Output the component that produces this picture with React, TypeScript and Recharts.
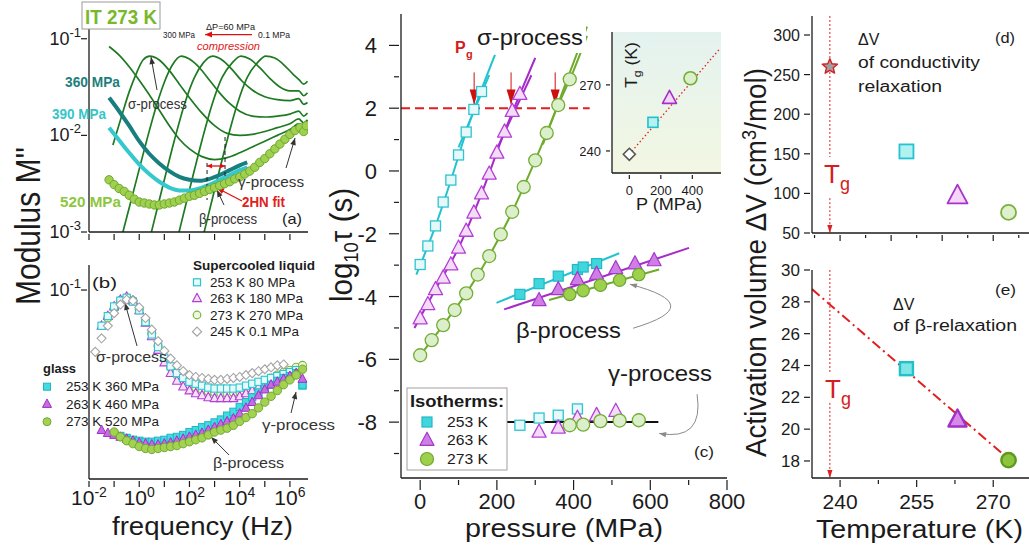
import React from "react";
import { ComposedChart, Line, Scatter, XAxis, YAxis, ReferenceLine } from "recharts";

const FONT = "Arial, 'Liberation Sans', Helvetica, sans-serif";
const INK = "#1b1b1b";
const AX = { stroke: INK, strokeWidth: 1.3 };

// (a) IT 273 K, thin curves 0.1 ... 300 MPa  (log10 f [Hz], log10 M'')
const a01F = [2.3, 2.7, 3.1, 3.5, 3.9, 4.3, 4.7, 5.04, 5.4, 5.8, 6.1, 6.35, 6.55, 6.7];
const a01M = [-3.3, -2.88, -2.46, -2.05, -1.68, -1.4, -1.25, -1.18, -1.2, -1.28, -1.36, -1.42, -1.47, -1.44];
const a60F = [1.3, 1.7, 2.1, 2.5, 2.9, 3.3, 3.7, 4.05, 4.4, 4.8, 5.2, 5.6, 6.0, 6.35, 6.55, 6.7];
const a60M = [-3.3, -2.88, -2.46, -2.05, -1.68, -1.4, -1.25, -1.18, -1.21, -1.3, -1.41, -1.5, -1.54, -1.54, -1.59, -1.56];
const a120F = [0.2, 0.6, 1.0, 1.4, 1.8, 2.2, 2.55, 2.92, 3.3, 3.7, 4.1, 4.5, 5.0, 5.5, 6.0, 6.35, 6.55, 6.7];
const a120M = [-3.3, -2.88, -2.46, -2.05, -1.68, -1.4, -1.25, -1.18, -1.22, -1.32, -1.44, -1.53, -1.6, -1.63, -1.64, -1.62, -1.68, -1.66];
const a180F = [-0.9, -0.5, -0.1, 0.3, 0.7, 1.0, 1.3, 1.67, 2.0, 2.4, 2.8, 3.2, 3.6, 4.0, 4.5, 5.0, 5.5, 6.0, 6.35, 6.55, 6.7];
const a180M = [-3.25, -2.85, -2.45, -2.05, -1.68, -1.45, -1.28, -1.18, -1.21, -1.3, -1.43, -1.56, -1.67, -1.75, -1.8, -1.81, -1.8, -1.78, -1.75, -1.8, -1.77];
const a240F = [-1.05, -0.7, -0.4, -0.1, 0.15, 0.42, 0.8, 1.2, 1.6, 2.0, 2.5, 3.0, 3.5, 4.0, 4.5, 5.0, 5.5, 6.0, 6.35, 6.55, 6.7];
const a240M = [-2.1, -1.8, -1.55, -1.35, -1.22, -1.18, -1.22, -1.33, -1.47, -1.61, -1.77, -1.9, -1.98, -2.0, -1.99, -1.96, -1.92, -1.88, -1.83, -1.87, -1.84];
const a300F = [-1.2, -0.8, -0.4, 0, 0.4, 0.8, 1.2, 1.6, 2.0, 2.5, 3.0, 3.5, 4.0, 4.5, 5.0, 5.5, 6.0, 6.35, 6.55, 6.7];
const a300M = [-1.08, -1.17, -1.29, -1.43, -1.58, -1.74, -1.9, -2.04, -2.14, -2.22, -2.25, -2.23, -2.18, -2.12, -2.06, -2.0, -1.94, -1.88, -1.92, -1.88];
// thick 360 / 390 MPa curves
const a36F = [-1.2, -0.8, -0.4, 0, 0.4, 0.8, 1.2, 1.6, 2.0, 2.4, 2.8, 3.2, 3.6, 4.0, 4.3];
const a360M = [-1.61, -1.75, -1.9, -2.06, -2.19, -2.29, -2.37, -2.43, -2.46, -2.47, -2.45, -2.41, -2.36, -2.31, -2.28];
const a390M = [-1.92, -2.05, -2.18, -2.3, -2.4, -2.48, -2.54, -2.57, -2.57, -2.55, -2.51, -2.46, -2.41, -2.36, -2.33];
// 520 MPa circles and 2HN fit
const a520F = [-1.2, -1.0, -0.8, -0.6, -0.4, -0.2, 0, 0.2, 0.4, 0.6, 0.8, 1.0, 1.2, 1.4, 1.6, 1.8, 2.0, 2.2, 2.4, 2.6, 2.8, 3.0, 3.2, 3.4, 3.6, 3.8, 4.0, 4.2, 4.4, 4.6, 4.8, 5.0, 5.2, 5.4, 5.6, 5.8, 6.0, 6.2, 6.4, 6.55, 6.65];
const a520M = [-2.46, -2.51, -2.55, -2.58, -2.62, -2.66, -2.69, -2.7, -2.71, -2.72, -2.72, -2.71, -2.7, -2.69, -2.67, -2.65, -2.63, -2.62, -2.6, -2.58, -2.56, -2.54, -2.52, -2.5, -2.48, -2.45, -2.43, -2.4, -2.37, -2.33, -2.28, -2.24, -2.19, -2.14, -2.09, -2.04, -1.99, -1.95, -1.92, -1.96, -1.9];
const aFitF = [0.9, 1.4, 1.9, 2.4, 2.9, 3.4, 3.9, 4.4, 4.9, 5.4, 5.9, 6.35];
const aFitM = [-2.72, -2.69, -2.64, -2.6, -2.55, -2.5, -2.44, -2.37, -2.26, -2.14, -2.02, -1.93];

// (b) spectra comparison (log10 f grid, log10 M'')
const bF = [-1.75, -1.5, -1.25, -1, -0.75, -0.5, -0.25, 0, 0.25, 0.5, 0.75, 1, 1.25, 1.5, 1.75, 2, 2.25, 2.5, 2.75, 3, 3.25, 3.5, 3.75, 4, 4.25, 4.5, 4.75, 5, 5.25, 5.5, 5.75, 6, 6.25, 6.5];
const bLiq245 = [-1.64, -1.5, -1.37, -1.24, -1.15, -1.1, -1.11, -1.18, -1.29, -1.41, -1.53, -1.63, -1.71, -1.78, -1.84, -1.88, -1.9, -1.91, -1.92, -1.93, -1.93, -1.92, -1.91, -1.9, -1.88, -1.86, -1.84, -1.82, -1.8, -1.78, -1.77, null, null, null];
const bLiq253 = [null, -1.37, -1.27, -1.17, -1.11, -1.08, -1.12, -1.21, -1.33, -1.46, -1.59, -1.7, -1.79, -1.86, -1.91, -1.95, -1.97, -1.99, -2.01, -2.02, -2.02, -2.02, -2.02, -2.01, -1.99, -1.97, -1.95, -1.93, -1.91, -1.89, -1.87, -1.85, -1.83, -1.99];
const bLiq263 = [null, -1.37, -1.27, -1.17, -1.1, -1.07, -1.11, -1.21, -1.34, -1.48, -1.62, -1.75, -1.86, -1.94, -2.0, -2.04, -2.07, -2.09, -2.11, -2.12, -2.12, -2.12, -2.12, -2.1, -2.07, -2.04, -2.0, -1.97, -1.94, -1.91, -1.89, -1.87, -1.84, null];
const bLiq273 = [null, null, -1.29, -1.19, -1.11, -1.08, -1.11, -1.2, -1.32, -1.45, -1.58, -1.7, -1.8, -1.88, -1.94, -1.98, -2.01, -2.03, -2.05, -2.06, -2.07, -2.07, -2.06, -2.05, -2.02, -2.0, -1.97, -1.94, -1.91, -1.88, -1.85, -1.83, -1.8, -1.78];
const bGl253 = [null, null, null, -2.49, -2.51, -2.53, -2.55, -2.56, -2.57, -2.57, -2.56, -2.55, -2.53, -2.52, -2.5, -2.47, -2.45, -2.42, -2.4, -2.37, -2.34, -2.3, -2.26, -2.21, -2.16, -2.11, -2.06, -2.02, -1.98, -1.94, -1.91, -1.89, -1.86, -1.98];
const bGl263 = [null, -2.45, -2.48, -2.5, -2.52, -2.54, -2.56, -2.58, -2.59, -2.6, -2.6, -2.59, -2.58, -2.56, -2.54, -2.52, -2.5, -2.48, -2.45, -2.42, -2.39, -2.36, -2.33, -2.28, -2.22, -2.16, -2.09, -2.03, -1.98, -1.95, -1.92, -1.89, -1.86, -1.92];
const bGl273 = [null, null, null, -2.47, -2.52, -2.56, -2.59, -2.62, -2.64, -2.65, -2.64, -2.63, -2.62, -2.61, -2.59, -2.57, -2.55, -2.53, -2.5, -2.47, -2.45, -2.43, -2.4, -2.36, -2.32, -2.28, -2.22, -2.16, -2.1, -2.04, -1.98, -1.93, -1.88, -1.82];

// (c) log10 tau vs pressure (MPa)
const sigP253 = [0, 20, 40, 60, 80, 100, 120, 140, 160];
const sigT253 = [-2.98, -2.39, -1.75, -0.99, -0.29, 0.51, 1.24, 1.96, 2.53];
const sigP263 = [0, 20, 40, 60, 80, 100, 120, 140, 160, 180, 200, 220, 240, 260];
const sigT263 = [-4.7, -4.25, -3.77, -3.4, -2.98, -2.45, -1.91, -1.33, -0.72, -0.09, 0.58, 1.25, 1.91, 2.45];
const sigP273 = [0, 30, 60, 90, 120, 150, 180, 210, 240, 270, 300, 330, 360, 390];
const sigT273 = [-5.87, -5.39, -4.91, -4.43, -3.9, -3.3, -2.71, -2.02, -1.3, -0.51, 0.34, 1.21, 2.1, 2.92];
const betP253 = [260, 310, 360, 410, 425, 460];
const betT253 = [-3.93, -3.59, -3.35, -3.14, -3.06, -2.95];
const betP263 = [310, 360, 410, 460, 510, 560, 610];
const betT263 = [-4.12, -3.77, -3.45, -3.28, -3.1, -2.95, -2.85];
const betP273 = [390, 425, 470, 520, 570];
const betT273 = [-3.93, -3.81, -3.64, -3.48, -3.3];
const gamP253 = [260, 310, 360, 410];
const gamT253 = [-8.1, -7.87, -7.78, -7.58];
const gamP263 = [310, 360, 410, 460, 510];
const gamT263 = [-8.31, -8.18, -7.87, -7.78, -7.65];
const gamP273 = [390, 425, 470, 520, 570];
const gamT273 = [-8.1, -8.08, -7.97, -7.95, -7.94];
// fitted lines (read along the drawn fits)
const fitLiqP253 = [-10, 40, 80, 120, 160, 195], fitLiqT253 = [-3.3, -1.75, -0.3, 1.24, 2.6, 3.7];
const fitGlP253 = [100, 180], fitGlT253 = [0.75, 3.05];
const fitLiqP263 = [-15, 40, 100, 160, 220, 260, 300], fitLiqT263 = [-5.0, -3.77, -2.45, -0.72, 1.25, 2.45, 3.6];
const fitGlP263 = [200, 290], fitGlT263 = [0.7, 3.05];
const fitLiqP273 = [-10, 60, 120, 180, 240, 300, 360, 400, 435], fitLiqT273 = [-6.03, -4.91, -3.9, -2.71, -1.3, 0.34, 2.1, 3.2, 4.3];
const fitGlP273 = [320, 435], fitGlT273 = [0.85, 4.6];
const fitBetP253 = [199, 519], fitBetT253 = [-4.2, -2.62];
const fitBetP263 = [219, 701], fitBetT263 = [-4.41, -2.45];
const fitBetP273 = [336, 623], fitBetT273 = [-4.11, -3.14];
const fitGamP = [200, 621], fitGamT = [-8, -8];
const pgP = [140.7, 237, 352];

// (c) inset: Tg vs P
const inP = [0, 150, 255, 388];
const inT = [238.5, 253, 264, 273];
const inFitP = [0, 578], inFitT = [238.5, 286.7];

// (d), (e) activation volumes
const isoT = [253, 263, 273];
const dV = [153, 97, 76];
const starT = [238], starV = [260];
const eV = [23.8, 20.6, 18.05];
const eFitT = [234.5, 273.8], eFitV = [28.8, 17.9];
const TG = 238;

type Pt = { x: number; y: number };
const pts = (xs: number[], ys: (number | null)[]): Pt[] =>
  xs.map((x, i) => ({ x, y: ys[i] as number })).filter((p) => p.y !== null && p.y !== undefined);

// marker shapes
const sq = (s: number, fill: string, stroke: string, sw = 1.2) => (p: any) => (
  <rect x={p.cx - s / 2} y={p.cy - s / 2} width={s} height={s} fill={fill} stroke={stroke} strokeWidth={sw} />
);
const tri = (s: number, fill: string, stroke: string, sw = 1.2) => (p: any) => (
  <polygon points={`${p.cx},${p.cy - s * 0.56} ${p.cx - s / 2},${p.cy + s * 0.38} ${p.cx + s / 2},${p.cy + s * 0.38}`} fill={fill} stroke={stroke} strokeWidth={sw} strokeLinejoin="round" />
);
const dot = (r: number, fill: string, stroke: string, sw = 1.2) => (p: any) => (
  <circle cx={p.cx} cy={p.cy} r={r} fill={fill} stroke={stroke} strokeWidth={sw} />
);
const dia = (s: number, fill: string, stroke: string, sw = 1.1) => (p: any) => (
  <polygon points={`${p.cx},${p.cy - s / 2} ${p.cx + s / 2},${p.cy} ${p.cx},${p.cy + s / 2} ${p.cx - s / 2},${p.cy}`} fill={fill} stroke={stroke} strokeWidth={sw} />
);
const star = (r: number, fill: string, stroke: string, sw = 1.4) => (p: any) => {
  const v: string[] = [];
  for (let k = 0; k < 10; k++) {
    const a = (-90 + k * 36) * Math.PI / 180;
    const rr = k % 2 === 0 ? r : r * 0.45;
    v.push(`${p.cx + rr * Math.cos(a)},${p.cy + rr * Math.sin(a)}`);
  }
  return <polygon points={v.join(" ")} fill={fill} stroke={stroke} strokeWidth={sw} strokeLinejoin="round" />;
};

// arrow used as ReferenceLine shape
const arrow = (o: { c?: string; w?: number; head?: number; hw?: number; dash?: string; ctrl?: [number, number]; both?: boolean }) => (p: any) => {
  const c = o.c ?? "#333";
  const x1 = +p.x1, y1 = +p.y1, x2 = +p.x2, y2 = +p.y2;
  const h = o.head ?? 7, hw = o.hw ?? 2.8;
  let d = `M${x1},${y1} L${x2},${y2}`;
  let fx = x1, fy = y1;
  if (o.ctrl) {
    const cx = x2 + o.ctrl[0], cy = y2 + o.ctrl[1];
    d = `M${x1},${y1} Q${cx},${cy} ${x2},${y2}`;
    fx = cx; fy = cy;
  }
  const head = (tx: number, ty: number, sx: number, sy: number) => {
    const L = Math.hypot(tx - sx, ty - sy) || 1;
    const ux = (tx - sx) / L, uy = (ty - sy) / L;
    const bx = tx - ux * h, by = ty - uy * h;
    return `${tx},${ty} ${bx - uy * hw},${by + ux * hw} ${bx + uy * hw},${by - ux * hw}`;
  };
  return (
    <g>
      <path d={d} fill="none" stroke={c} strokeWidth={o.w ?? 1} strokeDasharray={o.dash} />
      {h > 0 && <polygon points={head(x2, y2, fx, fy)} fill={c} />}
      {o.both && <polygon points={head(x1, y1, x2, y2)} fill={c} />}
    </g>
  );
};

// tick renderers (axis drawn with tickSize 0 / tickMargin 0, lines drawn here)
type TickCfg = { len: (v: number) => number; off: number; font: number; label: (v: number) => React.ReactNode | null; dy?: number };
const tickLeft = (c: TickCfg) => (p: any) => {
  const v = p.payload.value;
  const lab = c.label(v);
  return (
    <g>
      <line x1={p.x - c.len(v)} x2={p.x} y1={p.y} y2={p.y} stroke={INK} strokeWidth={1.2} />
      {lab !== null && (
        <text x={p.x - c.off} y={p.y + (c.dy ?? c.font * 0.36)} fontSize={c.font} fontFamily={FONT} textAnchor="end" fill={INK}>{lab}</text>
      )}
    </g>
  );
};
const tickBottom = (c: TickCfg) => (p: any) => {
  const v = p.payload.value;
  const lab = c.label(v);
  return (
    <g>
      <line x1={p.x} x2={p.x} y1={p.y} y2={p.y + c.len(v)} stroke={INK} strokeWidth={1.2} />
      {lab !== null && (
        <text x={p.x} y={p.y + c.off} fontSize={c.font} fontFamily={FONT} textAnchor="middle" fill={INK}>{lab}</text>
      )}
    </g>
  );
};
const pow = (v: number, sup: number, dy: number) => (
  <>
    <tspan>10</tspan>
    <tspan dy={dy} fontSize={sup}>{v}</tspan>
  </>
);
const noLab = () => null;

// top/right frame with inward ticks
const frame = (xd: [number, number], yd: [number, number], xt: number[], yt: number[], len = 5) => [
  <XAxis key="ft" xAxisId="t" orientation="top" type="number" domain={xd} allowDataOverflow ticks={xt} interval={0} height={0} mirror tick={false} tickSize={len} axisLine={AX} tickLine={AX} />,
  <YAxis key="fr" yAxisId="r" orientation="right" type="number" domain={yd} allowDataOverflow ticks={yt} interval={0} width={0} mirror tick={false} tickSize={len} axisLine={AX} tickLine={AX} />,
];

type TxtProps = { x: number; y: number; size: number; w?: number; anchor?: "start" | "middle" | "end"; fill?: string; bold?: boolean; italic?: boolean; rot?: boolean; gs?: number; children: React.ReactNode };
function Txt({ x, y, size, w, anchor = "start", fill = INK, bold, italic, rot, gs = 1, children }: TxtProps) {
  const tf = rot ? `translate(${x} ${y}) rotate(-90) scale(1 ${gs})` : `translate(${x} ${y})`;
  return (
    <text transform={tf} x={0} y={0} fontSize={size} fontFamily={FONT} textAnchor={anchor} fill={fill}
      fontWeight={bold ? "bold" : "normal"} fontStyle={italic ? "italic" : "normal"}
      textLength={w} lengthAdjust={w ? "spacingAndGlyphs" : undefined}>
      {children}
    </text>
  );
}

const DEC = [-2, -1, 0, 1, 2, 3, 4, 5, 6];
const thinA: [number[], number[]][] = [[a01F, a01M], [a60F, a60M], [a120F, a120M], [a180F, a180M], [a240F, a240M], [a300F, a300M]];

function PanelA() {
  const xd: [number, number] = [-2, 6.72];
  const yd: [number, number] = [-3, -0.744];
  return (
    <div style={{ position: "absolute", left: 0, top: 0 }}>
      <ComposedChart width={320} height={250} margin={{ top: 14, right: 12, bottom: 0, left: 0 }}>
        <XAxis dataKey="x" type="number" domain={xd} allowDataOverflow ticks={DEC} interval={0} height={18} tickSize={0} tickLine={false} axisLine={AX}
          tick={tickBottom({ len: () => 6, off: 0, font: 1, label: noLab })} />
        <YAxis dataKey="y" type="number" domain={yd} allowDataOverflow ticks={[-3, -2, -1]} interval={0} width={89} tickSize={0} tickLine={false} axisLine={AX}
          tick={tickLeft({ len: () => 6, off: 6, font: 18, dy: 6, label: (v) => pow(v, 13, -8) })} />
        {frame(xd, yd, DEC, [-3, -2, -1])}
        {thinA.map(([f, m], i) => (
          <Line key={i} data={pts(f, m)} dataKey="y" type="monotone" stroke="#1d7a22" strokeWidth={1.7} dot={false} isAnimationActive={false} />
        ))}
        <Line data={pts(a36F, a360M)} dataKey="y" type="monotone" stroke="#17807e" strokeWidth={4} dot={false} isAnimationActive={false} />
        <Line data={pts(a36F, a390M)} dataKey="y" type="monotone" stroke="#36c8cc" strokeWidth={4} dot={false} isAnimationActive={false} />
        <Scatter data={pts(a520F, a520M)} dataKey="y" shape={dot(4.2, "#9fd04e", "#6ea832", 1)} isAnimationActive={false} />
        <Line data={pts(aFitF, aFitM)} dataKey="y" type="monotone" stroke="#e01010" strokeWidth={1.5} dot={false} isAnimationActive={false} />
        <ReferenceLine segment={[{ x: 2.7, y: -2.286 }, { x: 2.7, y: -2.669 }]} stroke={INK} strokeDasharray="4 3" />
        <ReferenceLine segment={[{ x: 3.416, y: -2.017 }, { x: 3.416, y: -2.431 }]} stroke={INK} strokeDasharray="4 3" />
        <ReferenceLine segment={[{ x: 2.7, y: -2.317 }, { x: 3.416, y: -2.317 }]} shape={arrow({ c: "#e01010", w: 1.3, head: 5, hw: 2.5, both: true })} />
        <ReferenceLine segment={[{ x: 4.49, y: -0.957 }, { x: 2.62, y: -0.957 }]} shape={arrow({ c: "#e01010", w: 1.3, head: 7, hw: 3 })} />
        <ReferenceLine segment={[{ x: 0.708, y: -1.531 }, { x: 0.469, y: -1.189 }]} shape={arrow({ head: 7, hw: 2.8 })} />
        <ReferenceLine segment={[{ x: 5.845, y: -2.338 }, { x: 6.204, y: -2.027 }]} shape={arrow({ head: 7, hw: 2.8 })} />
        <ReferenceLine segment={[{ x: 3.376, y: -2.721 }, { x: 3.098, y: -2.566 }]} shape={arrow({ head: 7, hw: 2.8 })} />
        <ReferenceLine segment={[{ x: 4.093, y: -2.679 }, { x: 3.098, y: -2.545 }]} shape={arrow({ c: "#e01010", w: 1.3, head: 7, hw: 3 })} />
      </ComposedChart>
    </div>
  );
}

function PanelB() {
  const xd: [number, number] = [-2, 6.72];
  const yd: [number, number] = [-2.956, -0.741];
  const mk = (ys: (number | null)[], shape: any, k: string) => (
    <Scatter key={k} data={pts(bF, ys)} dataKey="y" shape={shape} isAnimationActive={false} />
  );
  return (
    <div style={{ position: "absolute", left: 0, top: 250 }}>
      <ComposedChart width={320} height={298} margin={{ top: 15, right: 12, bottom: 0, left: 0 }}>
        <XAxis dataKey="x" type="number" domain={xd} allowDataOverflow ticks={DEC} interval={0} height={69} tickSize={0} tickLine={false} axisLine={AX}
          tick={tickBottom({ len: () => 6, off: 24, font: 21, label: (v) => (v % 2 === 0 ? pow(v, 14, -8) : null) })} />
        <YAxis dataKey="y" type="number" domain={yd} allowDataOverflow ticks={[-1]} interval={0} width={89} tickSize={0} tickLine={false} axisLine={AX}
          tick={tickLeft({ len: () => 6, off: 6, font: 18, dy: 6, label: (v) => pow(v, 13, -8) })} />
        {frame(xd, yd, DEC, [-1])}
        {mk(bLiq273, dot(4, "#eef7e2", "#7ab53a", 1.1), "l273")}
        {mk(bLiq263, tri(9, "#f6e0fa", "#b43fd6", 1.1), "l263")}
        {mk(bLiq253, sq(7.2, "#e8fbfb", "#29c5d0", 1.1), "l253")}
        {mk(bLiq245, dia(9, "#ffffff", "#a4a4a4", 1.1), "l245")}
        {mk(bGl253, sq(7.2, "#42dbe0", "#20b5c5", 1), "g253")}
        {mk(bGl263, tri(9, "#c66be2", "#a030c8", 1), "g263")}
        {mk(bGl273, dot(4.2, "#a2d24f", "#72a835", 1), "g273")}
        <ReferenceLine segment={[{ x: -0.088, y: -1.579 }, { x: -0.566, y: -1.135 }]} shape={arrow({ head: 7, hw: 2.8 })} />
        <ReferenceLine segment={[{ x: 6.045, y: -2.273 }, { x: 6.244, y: -2.055 }]} shape={arrow({ head: 7, hw: 2.8 })} />
        <ReferenceLine segment={[{ x: 3.575, y: -2.707 }, { x: 2.859, y: -2.521 }]} shape={arrow({ head: 7, hw: 2.8 })} />
      </ComposedChart>
    </div>
  );
}

const C_CY = "#22c3d0", C_PU = "#a52cc8", C_GR = "#6fac2c";

function PanelC() {
  const xd: [number, number] = [-50, 800];
  const yd: [number, number] = [-9.78, 5];
  const fit = (p: number[], t: number[], c: string, k: string) => (
    <Line key={k} data={pts(p, t)} dataKey="y" type="monotone" stroke={c} strokeWidth={2} dot={false} isAnimationActive={false} />
  );
  const sc = (p: number[], t: number[], shape: any, k: string) => (
    <Scatter key={k} data={pts(p, t)} dataKey="y" shape={shape} isAnimationActive={false} />
  );
  return (
    <div style={{ position: "absolute", left: 340, top: 0 }}>
      <ComposedChart width={420} height={548} margin={{ top: 14, right: 33, bottom: 0, left: 0 }}>
        <XAxis dataKey="x" type="number" domain={xd} allowDataOverflow ticks={[0, 100, 200, 300, 400, 500, 600, 700, 800]} interval={0} height={70} tickSize={0} tickLine={false} axisLine={AX}
          tick={tickBottom({ len: (v) => (v % 200 === 0 ? 10 : 5), off: 29, font: 22, label: (v) => (v % 200 === 0 ? String(v) : null) })} />
        <YAxis dataKey="y" type="number" domain={yd} allowDataOverflow ticks={[-9, -8, -7, -6, -5, -4, -3, -2, -1, 0, 1, 2, 3, 4]} interval={0} width={61} tickSize={0} tickLine={false} axisLine={AX}
          tick={tickLeft({ len: (v) => (v % 2 === 0 ? 10 : 5), off: 22, font: 22, dy: 8, label: (v) => (v % 2 === 0 ? String(v) : null) })} />
        {frame(xd, yd, [0, 200, 400, 600], [-8, -6, -4, -2, 0, 2, 4], 9)}
        <ReferenceLine segment={[{ x: -50, y: 2 }, { x: 442, y: 2 }]} stroke="#e02020" strokeWidth={2} strokeDasharray="9 5" />
        {fit(fitLiqP253, fitLiqT253, C_CY, "f1")}
        {fit(fitGlP253, fitGlT253, C_CY, "f2")}
        {fit(fitLiqP263, fitLiqT263, C_PU, "f3")}
        {fit(fitGlP263, fitGlT263, C_PU, "f4")}
        {fit(fitLiqP273, fitLiqT273, C_GR, "f5")}
        {fit(fitGlP273, fitGlT273, C_GR, "f6")}
        {fit(fitBetP253, fitBetT253, C_CY, "f7")}
        {fit(fitBetP263, fitBetT263, C_PU, "f8")}
        {fit(fitBetP273, fitBetT273, C_GR, "f9")}
        {fit(fitGamP, fitGamT, "#111", "f10")}
        {sc(sigP253, sigT253, sq(10, "#e6f9fa", "#2ec4cf", 1.3), "s1")}
        {sc(sigP263, sigT263, tri(14, "#f4dcf9", "#b43fd6", 1.3), "s2")}
        {sc(sigP273, sigT273, dot(6.5, "#dcefcb", "#74ad36", 1.3), "s3")}
        {sc(betP253, betT253, sq(10, "#3fd6dc", "#22b8c8", 1.2), "b1")}
        {sc(betP263, betT263, tri(14, "#cf7ee6", "#a437c9", 1.2), "b2")}
        {sc(betP273, betT273, dot(6.2, "#9dd04b", "#6ea532", 1.2), "b3")}
        {sc(gamP253, gamT253, sq(10, "#e6f9fa", "#2ec4cf", 1.3), "g1")}
        {sc(gamP263, gamT263, tri(14, "#f4dcf9", "#b43fd6", 1.3), "g2")}
        {sc(gamP273, gamT273, dot(6.5, "#dcefcb", "#74ad36", 1.3), "g3")}
        {pgP.map((p) => (
          <ReferenceLine key={p} segment={[{ x: p, y: 3.14 }, { x: p, y: 2.12 }]} shape={arrow({ c: "#cc1010", w: 1, head: 15, hw: 4.5 })} />
        ))}
        <ReferenceLine segment={[{ x: 555, y: -5.01 }, { x: 547, y: -3.61 }]} shape={arrow({ c: "#8a8a8a", w: 1, head: 7, hw: 2.6, ctrl: [80, 21] })} />
        <ReferenceLine segment={[{ x: 722, y: -7.11 }, { x: 623, y: -8.36 }]} shape={arrow({ c: "#8a8a8a", w: 1, head: 7, hw: 2.6, ctrl: [45, 8] })} />
      </ComposedChart>
    </div>
  );
}

function Inset() {
  const xd: [number, number] = [-110, 582];
  const yd: [number, number] = [230, 294];
  return (
    <>
      <div style={{ position: "absolute", left: 612, top: 32, width: 109, height: 141, background: "linear-gradient(#e4f2ef, #f2f7e2)" }} />
      <div style={{ position: "absolute", left: 580, top: 20 }}>
        <ComposedChart width={145} height={190} margin={{ top: 12, right: 4, bottom: 0, left: 0 }}>
          <XAxis dataKey="x" type="number" domain={xd} allowDataOverflow ticks={[0, 200, 400]} interval={0} height={37} tickSize={0} tickLine={false} axisLine={AX}
            tick={tickBottom({ len: () => 4, off: 20, font: 13, label: (v) => String(v) })} />
          <YAxis dataKey="y" type="number" domain={yd} allowDataOverflow ticks={[240, 270]} interval={0} width={32} tickSize={0} tickLine={false} axisLine={AX}
            tick={tickLeft({ len: () => 4, off: 9, font: 13, dy: 5, label: (v) => String(v) })} />
          {frame(xd, yd, [0, 200, 400], [240, 270], 4)}
          <Line data={pts(inFitP, inFitT)} dataKey="y" type="linear" stroke="#e02020" strokeWidth={1.3} strokeDasharray="1.5 2.5" dot={false} isAnimationActive={false} />
          <Scatter data={pts([inP[0]], [inT[0]])} dataKey="y" shape={dia(12, "#ffffff", "#555", 1.6)} isAnimationActive={false} />
          <Scatter data={pts([inP[1]], [inT[1]])} dataKey="y" shape={sq(10, "#b4f2f2", "#22c0cc", 1.6)} isAnimationActive={false} />
          <Scatter data={pts([inP[2]], [inT[2]])} dataKey="y" shape={tri(14, "#f4d6fa", "#a530c8", 1.6)} isAnimationActive={false} />
          <Scatter data={pts([inP[3]], [inT[3]])} dataKey="y" shape={dot(6.5, "#dcefcb", "#74ad36", 1.6)} isAnimationActive={false} />
        </ComposedChart>
      </div>
    </>
  );
}

function PanelD() {
  const xd: [number, number] = [234.5, 277.4];
  const yd: [number, number] = [50, 324];
  return (
    <div style={{ position: "absolute", left: 730, top: 0 }}>
      <ComposedChart width={310} height={250} margin={{ top: 16, right: 9, bottom: 0, left: 0 }}>
        <XAxis dataKey="x" type="number" domain={xd} allowDataOverflow ticks={[235, 240, 245, 250, 255, 260, 265, 270, 275]} interval={0} height={17} tickSize={0} tickLine={false} axisLine={AX}
          tick={tickBottom({ len: (v) => (v % 10 === 0 ? 6 : 3), off: 0, font: 1, label: noLab })} />
        <YAxis dataKey="y" type="number" domain={yd} allowDataOverflow ticks={[50, 100, 150, 200, 250, 300]} interval={0} width={82} tickSize={0} tickLine={false} axisLine={AX}
          tick={tickLeft({ len: () => 6, off: 10, font: 16, dy: 6, label: (v) => String(v) })} />
        {frame(xd, yd, [240, 250, 260, 270], [100, 150, 200, 250, 300], 6)}
        <ReferenceLine segment={[{ x: TG, y: 324 }, { x: TG, y: 146 }]} stroke="#e02020" strokeWidth={1} strokeDasharray="2 2" />
        <ReferenceLine segment={[{ x: TG, y: 94 }, { x: TG, y: 50 }]} shape={arrow({ c: "#e02020", w: 1, dash: "2 2", head: 8, hw: 2.6 })} />
        <Scatter data={pts(starT, starV)} dataKey="y" shape={star(8, "#a0a0a0", "#d42020", 1.4)} isAnimationActive={false} />
        <Scatter data={pts([isoT[0]], [dV[0]])} dataKey="y" shape={sq(14, "#b0f2f2", "#25c3d0", 1.8)} isAnimationActive={false} />
        <Scatter data={pts([isoT[1]], [dV[1]])} dataKey="y" shape={tri(20, "#f5d5fa", "#a733c8", 1.8)} isAnimationActive={false} />
        <Scatter data={pts([isoT[2]], [dV[2]])} dataKey="y" shape={dot(7.5, "#def0cd", "#79b13c", 1.8)} isAnimationActive={false} />
      </ComposedChart>
    </div>
  );
}

function PanelE() {
  const xd: [number, number] = [234.5, 277.4];
  const yd: [number, number] = [16.93, 30];
  return (
    <div style={{ position: "absolute", left: 730, top: 250 }}>
      <ComposedChart width={310} height={298} margin={{ top: 20, right: 9, bottom: 0, left: 0 }}>
        <XAxis dataKey="x" type="number" domain={xd} allowDataOverflow ticks={[240, 247.5, 255, 262.5, 270]} interval={0} height={70} tickSize={0} tickLine={false} axisLine={AX}
          tick={tickBottom({ len: (v) => (v % 15 === 0 ? 7 : 4), off: 29, font: 21, label: (v) => (v % 15 === 0 ? String(v) : null) })} />
        <YAxis dataKey="y" type="number" domain={yd} allowDataOverflow ticks={[18, 20, 22, 24, 26, 28, 30]} interval={0} width={82} tickSize={0} tickLine={false} axisLine={AX}
          tick={tickLeft({ len: () => 6, off: 10, font: 17, dy: 6, label: (v) => String(v) })} />
        {frame(xd, yd, [240, 255, 270], [18, 20, 22, 24, 26, 28], 6)}
        <ReferenceLine segment={[{ x: TG, y: 30 }, { x: TG, y: 23.53 }]} stroke="#e02020" strokeWidth={1} strokeDasharray="2 2" />
        <ReferenceLine segment={[{ x: TG, y: 21.65 }, { x: TG, y: 16.93 }]} shape={arrow({ c: "#e02020", w: 1, dash: "2 2", head: 8, hw: 2.6 })} />
        <Line data={pts(eFitT, eFitV)} dataKey="y" type="linear" stroke="#e02020" strokeWidth={2} strokeDasharray="10 4 2 4" dot={false} isAnimationActive={false} />
        <Scatter data={pts([isoT[0]], [eV[0]])} dataKey="y" shape={sq(13, "#7fe6e8", "#22c0c8", 2.4)} isAnimationActive={false} />
        <Scatter data={pts([isoT[1]], [eV[1]])} dataKey="y" shape={tri(18, "#d68ae8", "#a030c8", 2.4)} isAnimationActive={false} />
        <Scatter data={pts([isoT[2]], [eV[2]])} dataKey="y" shape={dot(7.2, "#8cc43c", "#5b9a1f", 2.4)} isAnimationActive={false} />
      </ComposedChart>
    </div>
  );
}

function Overlay() {
  const liq = [
    { y: 282.3, t: "253 K 80 MPa", w: 85, m: sq(7, "#e8fbfb", "#29c5d0", 1.2) },
    { y: 298.3, t: "263 K 180 MPa", w: 93, m: tri(9, "#f6e0fa", "#b43fd6", 1.2) },
    { y: 315, t: "273 K 270 MPa", w: 93, m: dot(3.8, "#eef7e2", "#7ab53a", 1.2) },
    { y: 331.7, t: "245 K 0.1 MPa", w: 89, m: dia(9, "#fff", "#a4a4a4", 1.2) },
  ];
  const gl = [
    { y: 386.7, t: "253 K 360 MPa", m: sq(7, "#42dbe0", "#20b5c5", 1) },
    { y: 404, t: "263 K 460 MPa", m: tri(9, "#c66be2", "#a030c8", 1) },
    { y: 421.7, t: "273 K 520 MPa", m: dot(4, "#a2d24f", "#72a835", 1) },
  ];
  const iso = [
    { y: 422, t: "253 K", m: sq(10, "#3fd6dc", "#22b8c8", 1.2) },
    { y: 440, t: "263 K", m: tri(14, "#cf7ee6", "#a437c9", 1.2) },
    { y: 459, t: "273 K", m: dot(6.5, "#9dd04b", "#6ea532", 1.2) },
  ];
  return (
    <svg width={1029} height={548} style={{ position: "absolute", left: 0, top: 0 }}>
      {/* (a) */}
      <rect x={82} y={2} width={78} height={27} fill="#fff" stroke="#9a9a9a" strokeWidth={1} />
      <Txt x={85} y={24} size={20} w={72} bold fill="#78b82a">IT 273 K</Txt>
      <Txt x={206} y={30} size={9.5} w={49}>ΔP=60 MPa</Txt>
      <Txt x={163} y={38} size={9.5} w={32}>300 MPa</Txt>
      <Txt x={258} y={38} size={9.5} w={32}>0.1 MPa</Txt>
      <Txt x={197} y={50} size={11} w={63} italic fill="#e02020">compression</Txt>
      <Txt x={65} y={87} size={14} w={55} bold fill="#1d7f7c">360 MPa</Txt>
      <Txt x={52} y={119} size={14} w={54} bold fill="#36c5c9">390 MPa</Txt>
      <Txt x={60} y={207} size={14} w={61} bold fill="#8dc63f">520 MPa</Txt>
      <Txt x={128} y={109} size={14} w={59} fill="#333">σ-process</Txt>
      <Txt x={238} y={187} size={14} w={66} fill="#333">γ-process</Txt>
      <Txt x={242} y={207} size={14} w={43} bold fill="#e02020">2HN fit</Txt>
      <Txt x={199} y={224} size={14} w={58} fill="#333">β-process</Txt>
      <Txt x={282} y={224} size={15} w={20}>(a)</Txt>
      <Txt x={40} y={305} size={30} w={158} rot gs={1.15}>Modulus M''</Txt>
      {/* (b) */}
      <Txt x={92} y={288} size={15} w={25}>(b)</Txt>
      <rect x={190} y={258} width={128} height={15} fill="#fff" />
      <Txt x={193} y={270} size={12.5} w={122} bold>Supercooled liquid</Txt>
      {liq.map((r) => (
        <g key={r.t}>
          {r.m({ cx: 197, cy: r.y })}
          <Txt x={210} y={r.y + 4.5} size={13} w={r.w}>{r.t}</Txt>
        </g>
      ))}
      <Txt x={43} y={373} size={12.5} w={33} bold>glass</Txt>
      {gl.map((r) => (
        <g key={r.t}>
          {r.m({ cx: 47, cy: r.y })}
          <Txt x={66} y={r.y + 4.5} size={13} w={93}>{r.t}</Txt>
        </g>
      ))}
      <Txt x={96} y={362} size={15} w={71} fill="#333">σ-process</Txt>
      <Txt x={262} y={430} size={15} w={73} fill="#333">γ-process</Txt>
      <Txt x={213} y={468} size={15} w={71} fill="#333">β-process</Txt>
      <Txt x={112} y={535} size={25} w={181}>frequency (Hz)</Txt>
      {/* (c) */}
      <rect x={474} y={26} width={112} height={27} fill="#fff" />
      <Txt x={477} y={45} size={22} w={106}>σ-process</Txt>
      <Txt x={455} y={53} size={16} bold fill="#d41c1c">P</Txt>
      <Txt x={466} y={58} size={11} bold fill="#d41c1c">g</Txt>
      <Txt x={516} y={338} size={22} w={105}>β-process</Txt>
      <Txt x={608} y={381} size={22} w={104}>γ-process</Txt>
      <Txt x={694} y={457} size={14} w={20}>(c)</Txt>
      <rect x={407} y={388} width={100} height={82} fill="#fff" stroke="#a0a0a0" strokeWidth={1} />
      <Txt x={410} y={407} size={16} w={94} bold>Isotherms:</Txt>
      {iso.map((r) => (
        <g key={r.t}>
          {r.m({ cx: 427, cy: r.y })}
          <Txt x={447} y={r.y + 5} size={15} w={41}>{r.t}</Txt>
        </g>
      ))}
      <Txt x={465} y={537} size={25} w={198}>pressure (MPa)</Txt>
      <Txt x={352} y={302} size={27} w={114} rot gs={1.15}>
        log<tspan dy={5} fontSize={17}>10</tspan><tspan dy={-5}>τ (s)</tspan>
      </Txt>
      <Txt x={637} y={88} size={16} w={46} rot>
        T<tspan dy={4} fontSize={11}>g</tspan><tspan dy={-4}> (K)</tspan>
      </Txt>
      <Txt x={636} y={210} size={16} w={66}>P (MPa)</Txt>
      {/* (d), (e) */}
      <Txt x={858} y={45} size={16}>ΔV</Txt>
      <Txt x={858} y={68} size={16} w={122}>of conductivity</Txt>
      <Txt x={858} y={92} size={16} w={84}>relaxation</Txt>
      <Txt x={995} y={43} size={14} w={20}>(d)</Txt>
      <Txt x={824} y={183} size={26} fill="#d42020">T<tspan dy={7} fontSize={18}>g</tspan></Txt>
      <Txt x={893} y={310} size={16}>ΔV</Txt>
      <Txt x={893} y={331} size={16} w={124}>of β-relaxation</Txt>
      <Txt x={995} y={295} size={14} w={21}>(e)</Txt>
      <Txt x={825} y={398} size={26} fill="#d42020">T<tspan dy={7} fontSize={18}>g</tspan></Txt>
      <Txt x={766} y={457} size={26} w={389} rot gs={1.15}>
        Activation volume ΔV (cm<tspan dy={-9} fontSize={17}>3</tspan><tspan dy={9}>/mol)</tspan>
      </Txt>
      <Txt x={816} y={538} size={25} w={207}>Temperature (K)</Txt>
    </svg>
  );
}

export default function App() {
  return (
    <div style={{ position: "fixed", left: 0, top: 0, width: 1029, height: 548, overflow: "hidden", background: "#fff", fontFamily: FONT }}>
      <PanelA />
      <PanelB />
      <PanelC />
      <Inset />
      <PanelD />
      <PanelE />
      <Overlay />
    </div>
  );
}
